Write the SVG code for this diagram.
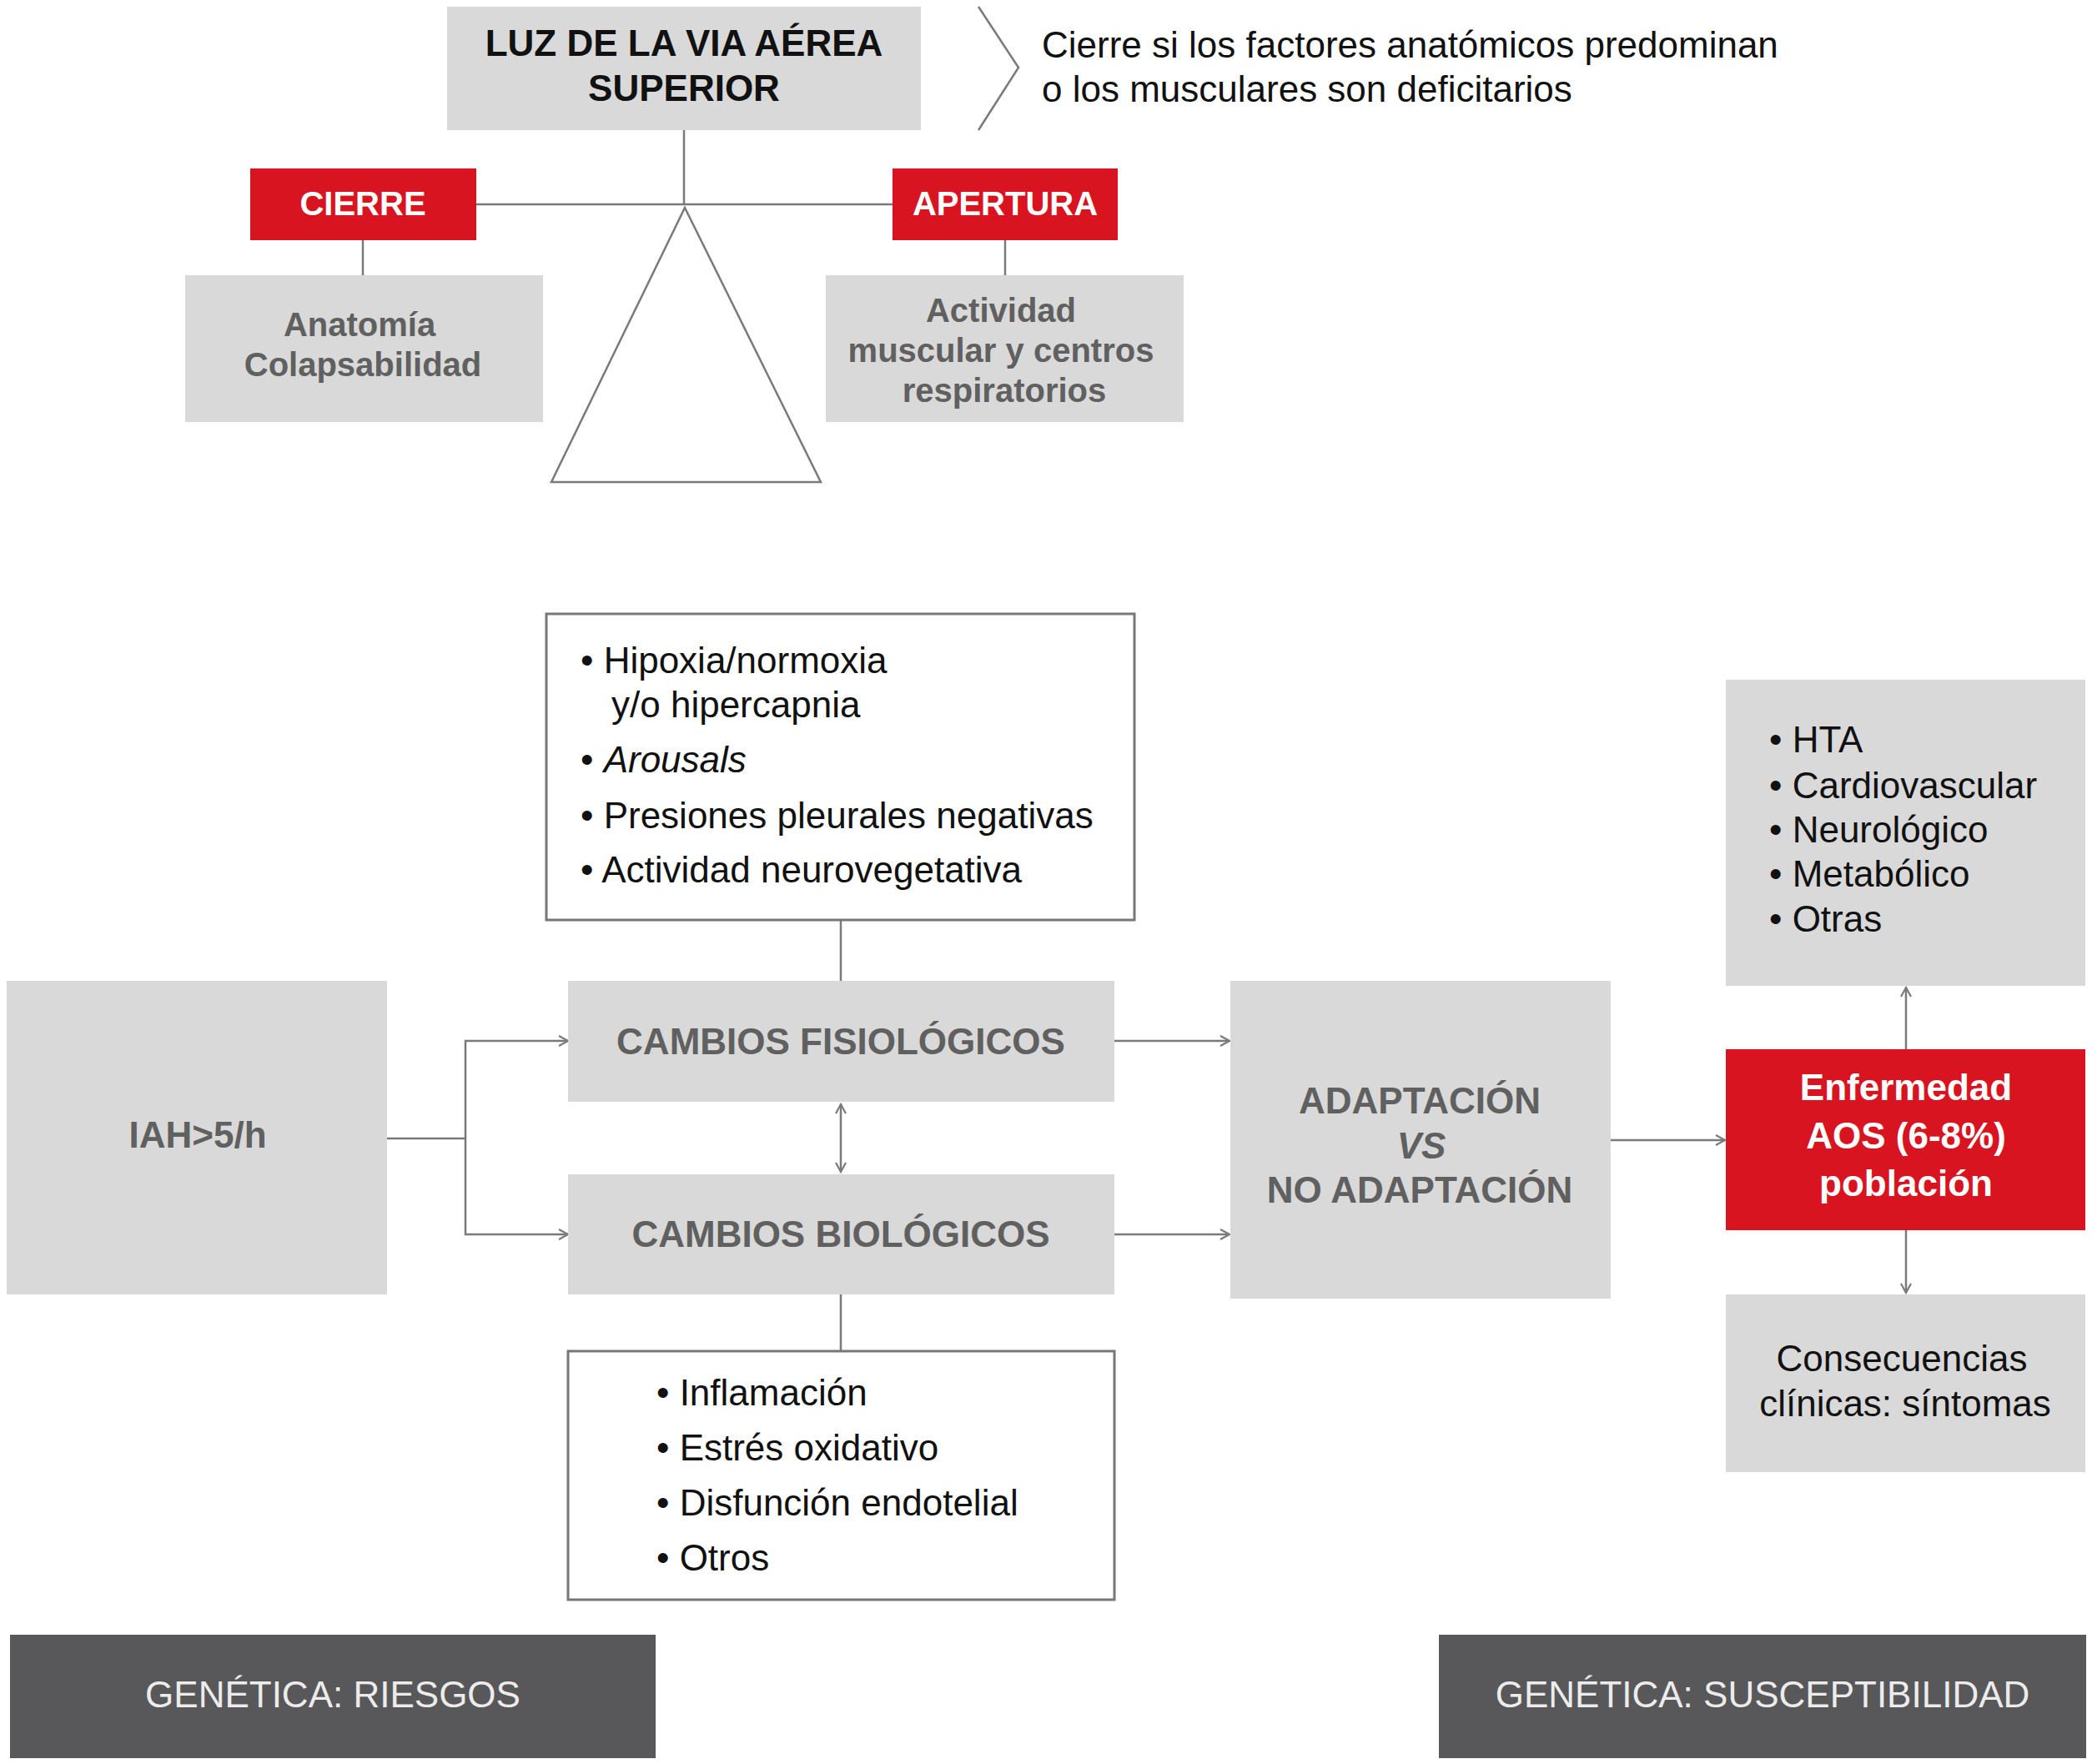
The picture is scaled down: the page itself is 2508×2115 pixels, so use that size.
<svg xmlns="http://www.w3.org/2000/svg" width="2508" height="2115" viewBox="0 0 2508 2115">
<defs>
<style>
text{font-family:"Liberation Sans",Arial,sans-serif;}
.gbox{fill:#d9d9d9;}
.red{fill:#d7141f;}
.dark{fill:#58585a;}
.wbox{fill:#ffffff;stroke:#777;stroke-width:3;}
.ln{stroke:#7a7a7a;stroke-width:2.5;fill:none;}
.t44b{font-size:44px;font-weight:bold;}
.t40b{font-size:40px;font-weight:bold;}
.t44{font-size:44px;}
.gtx{fill:#606060;}
.ktx{fill:#111;}
.wtx{fill:#ffffff;}
.ltx{fill:#ececec;}
</style>
<marker id="arr" markerWidth="16" markerHeight="16" refX="13" refY="8" orient="auto" markerUnits="userSpaceOnUse">
<path d="M2,2 L13,8 L2,14" fill="none" stroke="#7a7a7a" stroke-width="2.2"/>
</marker>
<marker id="arrs" markerWidth="16" markerHeight="16" refX="3" refY="8" orient="auto" markerUnits="userSpaceOnUse">
<path d="M14,2 L3,8 L14,14" fill="none" stroke="#7a7a7a" stroke-width="2.2"/>
</marker>
</defs>
<rect width="2508" height="2115" fill="#ffffff"/>

<g id="connectors">
<line class="ln" x1="820" y1="156" x2="820" y2="246"/>
<line class="ln" x1="571" y1="245" x2="1070" y2="245" stroke-width="3.5"/>
<line class="ln" x1="435" y1="288" x2="435" y2="330"/>
<line class="ln" x1="1205" y1="288" x2="1205" y2="330"/>
<polyline class="ln" points="1173,8 1221,81 1173,156"/>
<line class="ln" x1="1008" y1="1103" x2="1008" y2="1176"/>
<polyline class="ln" points="464,1365 558,1365"/>
<polyline class="ln" points="681,1248 558,1248 558,1480 681,1480" marker-start="url(#arrs)" marker-end="url(#arr)"/>
<line class="ln" x1="1008" y1="1324" x2="1008" y2="1405" marker-start="url(#arrs)" marker-end="url(#arr)"/>
<line class="ln" x1="1008" y1="1552" x2="1008" y2="1620"/>
<line class="ln" x1="1336" y1="1248" x2="1474" y2="1248" marker-end="url(#arr)"/>
<line class="ln" x1="1336" y1="1480" x2="1474" y2="1480" marker-end="url(#arr)"/>
<line class="ln" x1="1931" y1="1367" x2="2068" y2="1367" marker-end="url(#arr)"/>
<line class="ln" x1="2285" y1="1258" x2="2285" y2="1184" marker-end="url(#arr)"/>
<line class="ln" x1="2285" y1="1475" x2="2285" y2="1550" marker-end="url(#arr)"/>
</g>

<g id="luz">
<rect class="gbox" x="536" y="8" width="568" height="148"/>
<text class="t44b ktx" x="820" y="67" text-anchor="middle" fill="#222">LUZ DE LA VIA AÉREA</text>
<text class="t44b ktx" x="820" y="121" text-anchor="middle" fill="#222">SUPERIOR</text>
</g>

<g id="nota">
<text class="t44 ktx" x="1249" y="69">Cierre si los factores anatómicos predominan</text>
<text class="t44 ktx" x="1249" y="122">o los musculares son deficitarios</text>
</g>

<g id="cierre">
<rect class="red" x="300" y="202" width="271" height="86"/>
<text class="t40b wtx" x="435" y="258" text-anchor="middle">CIERRE</text>
</g>

<g id="apertura">
<rect class="red" x="1070" y="202" width="270" height="86"/>
<text class="t40b wtx" x="1205" y="258" text-anchor="middle">APERTURA</text>
</g>

<g id="anatomia">
<rect class="gbox" x="222" y="330" width="429" height="176"/>
<text class="t40b gtx" x="431" y="403" text-anchor="middle">Anatomía</text>
<text class="t40b gtx" x="435" y="451" text-anchor="middle">Colapsabilidad</text>
</g>

<g id="actividad">
<rect class="gbox" x="990" y="330" width="429" height="176"/>
<text class="t40b gtx" x="1200" y="386" text-anchor="middle">Actividad</text>
<text class="t40b gtx" x="1200" y="434" text-anchor="middle">muscular y centros</text>
<text class="t40b gtx" x="1204" y="482" text-anchor="middle">respiratorios</text>
</g>

<g id="balanza">
<polygon points="821,249 661,578 984,578" fill="#ffffff" stroke="#7a7a7a" stroke-width="2.5"/>
</g>

<g id="lista-fisio">
<rect class="wbox" x="655" y="736" width="705" height="367"/>
<text class="t44 ktx" x="696" y="807">• Hipoxia/normoxia</text>
<text class="t44 ktx" x="733" y="860">y/o hipercapnia</text>
<text class="t44 ktx" x="696" y="926">• <tspan font-style="italic">Arousals</tspan></text>
<text class="t44 ktx" x="696" y="993">• Presiones pleurales negativas</text>
<text class="t44 ktx" x="696" y="1058">• Actividad neurovegetativa</text>
</g>

<g id="iah">
<rect class="gbox" x="8" y="1176" width="456" height="376"/>
<text class="t44b gtx" x="237" y="1376" text-anchor="middle">IAH&gt;5/h</text>
</g>

<g id="fisio">
<rect class="gbox" x="681" y="1176" width="655" height="145"/>
<text class="t44b gtx" x="1008" y="1264" text-anchor="middle">CAMBIOS FISIOLÓGICOS</text>
</g>

<g id="bio">
<rect class="gbox" x="681" y="1408" width="655" height="144"/>
<text class="t44b gtx" x="1008" y="1495" text-anchor="middle">CAMBIOS BIOLÓGICOS</text>
</g>

<g id="lista-bio">
<rect class="wbox" x="681" y="1620" width="655" height="298"/>
<text class="t44 ktx" x="787" y="1685">• Inflamación</text>
<text class="t44 ktx" x="787" y="1751">• Estrés oxidativo</text>
<text class="t44 ktx" x="787" y="1817">• Disfunción endotelial</text>
<text class="t44 ktx" x="787" y="1883">• Otros</text>
</g>

<g id="adaptacion">
<rect class="gbox" x="1475" y="1176" width="456" height="381"/>
<text class="t44b gtx" x="1702" y="1335" text-anchor="middle">ADAPTACIÓN</text>
<text class="t44b gtx" x="1704" y="1389" text-anchor="middle" font-style="italic">VS</text>
<text class="t44b gtx" x="1702" y="1442" text-anchor="middle">NO ADAPTACIÓN</text>
</g>

<g id="enfermedad">
<rect class="red" x="2069" y="1258" width="431" height="217"/>
<text class="t44b wtx" x="2285" y="1319" text-anchor="middle">Enfermedad</text>
<text class="t44b wtx" x="2285" y="1377" text-anchor="middle">AOS (6-8%)</text>
<text class="t44b wtx" x="2285" y="1434" text-anchor="middle">población</text>
</g>

<g id="comorbilidades">
<rect class="gbox" x="2069" y="815" width="431" height="367"/>
<text class="t44 ktx" x="2121" y="902" fill="#222">• HTA</text>
<text class="t44 ktx" x="2121" y="957" fill="#222">• Cardiovascular</text>
<text class="t44 ktx" x="2121" y="1010" fill="#222">• Neurológico</text>
<text class="t44 ktx" x="2121" y="1063" fill="#222">• Metabólico</text>
<text class="t44 ktx" x="2121" y="1117" fill="#222">• Otras</text>
</g>

<g id="consecuencias">
<rect class="gbox" x="2069" y="1552" width="431" height="213"/>
<text class="t44 ktx" x="2280" y="1644" text-anchor="middle" fill="#222">Consecuencias</text>
<text class="t44 ktx" x="2284" y="1698" text-anchor="middle" fill="#222">clínicas: síntomas</text>
</g>

<g id="genetica-riesgos">
<rect class="dark" x="12" y="1960" width="774" height="148"/>
<text class="t44 ltx" x="399" y="2047" text-anchor="middle">GENÉTICA: RIESGOS</text>
</g>

<g id="genetica-susceptibilidad">
<rect class="dark" x="1725" y="1960" width="776" height="148"/>
<text class="t44 ltx" x="2113" y="2047" text-anchor="middle">GENÉTICA: SUSCEPTIBILIDAD</text>
</g>
</svg>
